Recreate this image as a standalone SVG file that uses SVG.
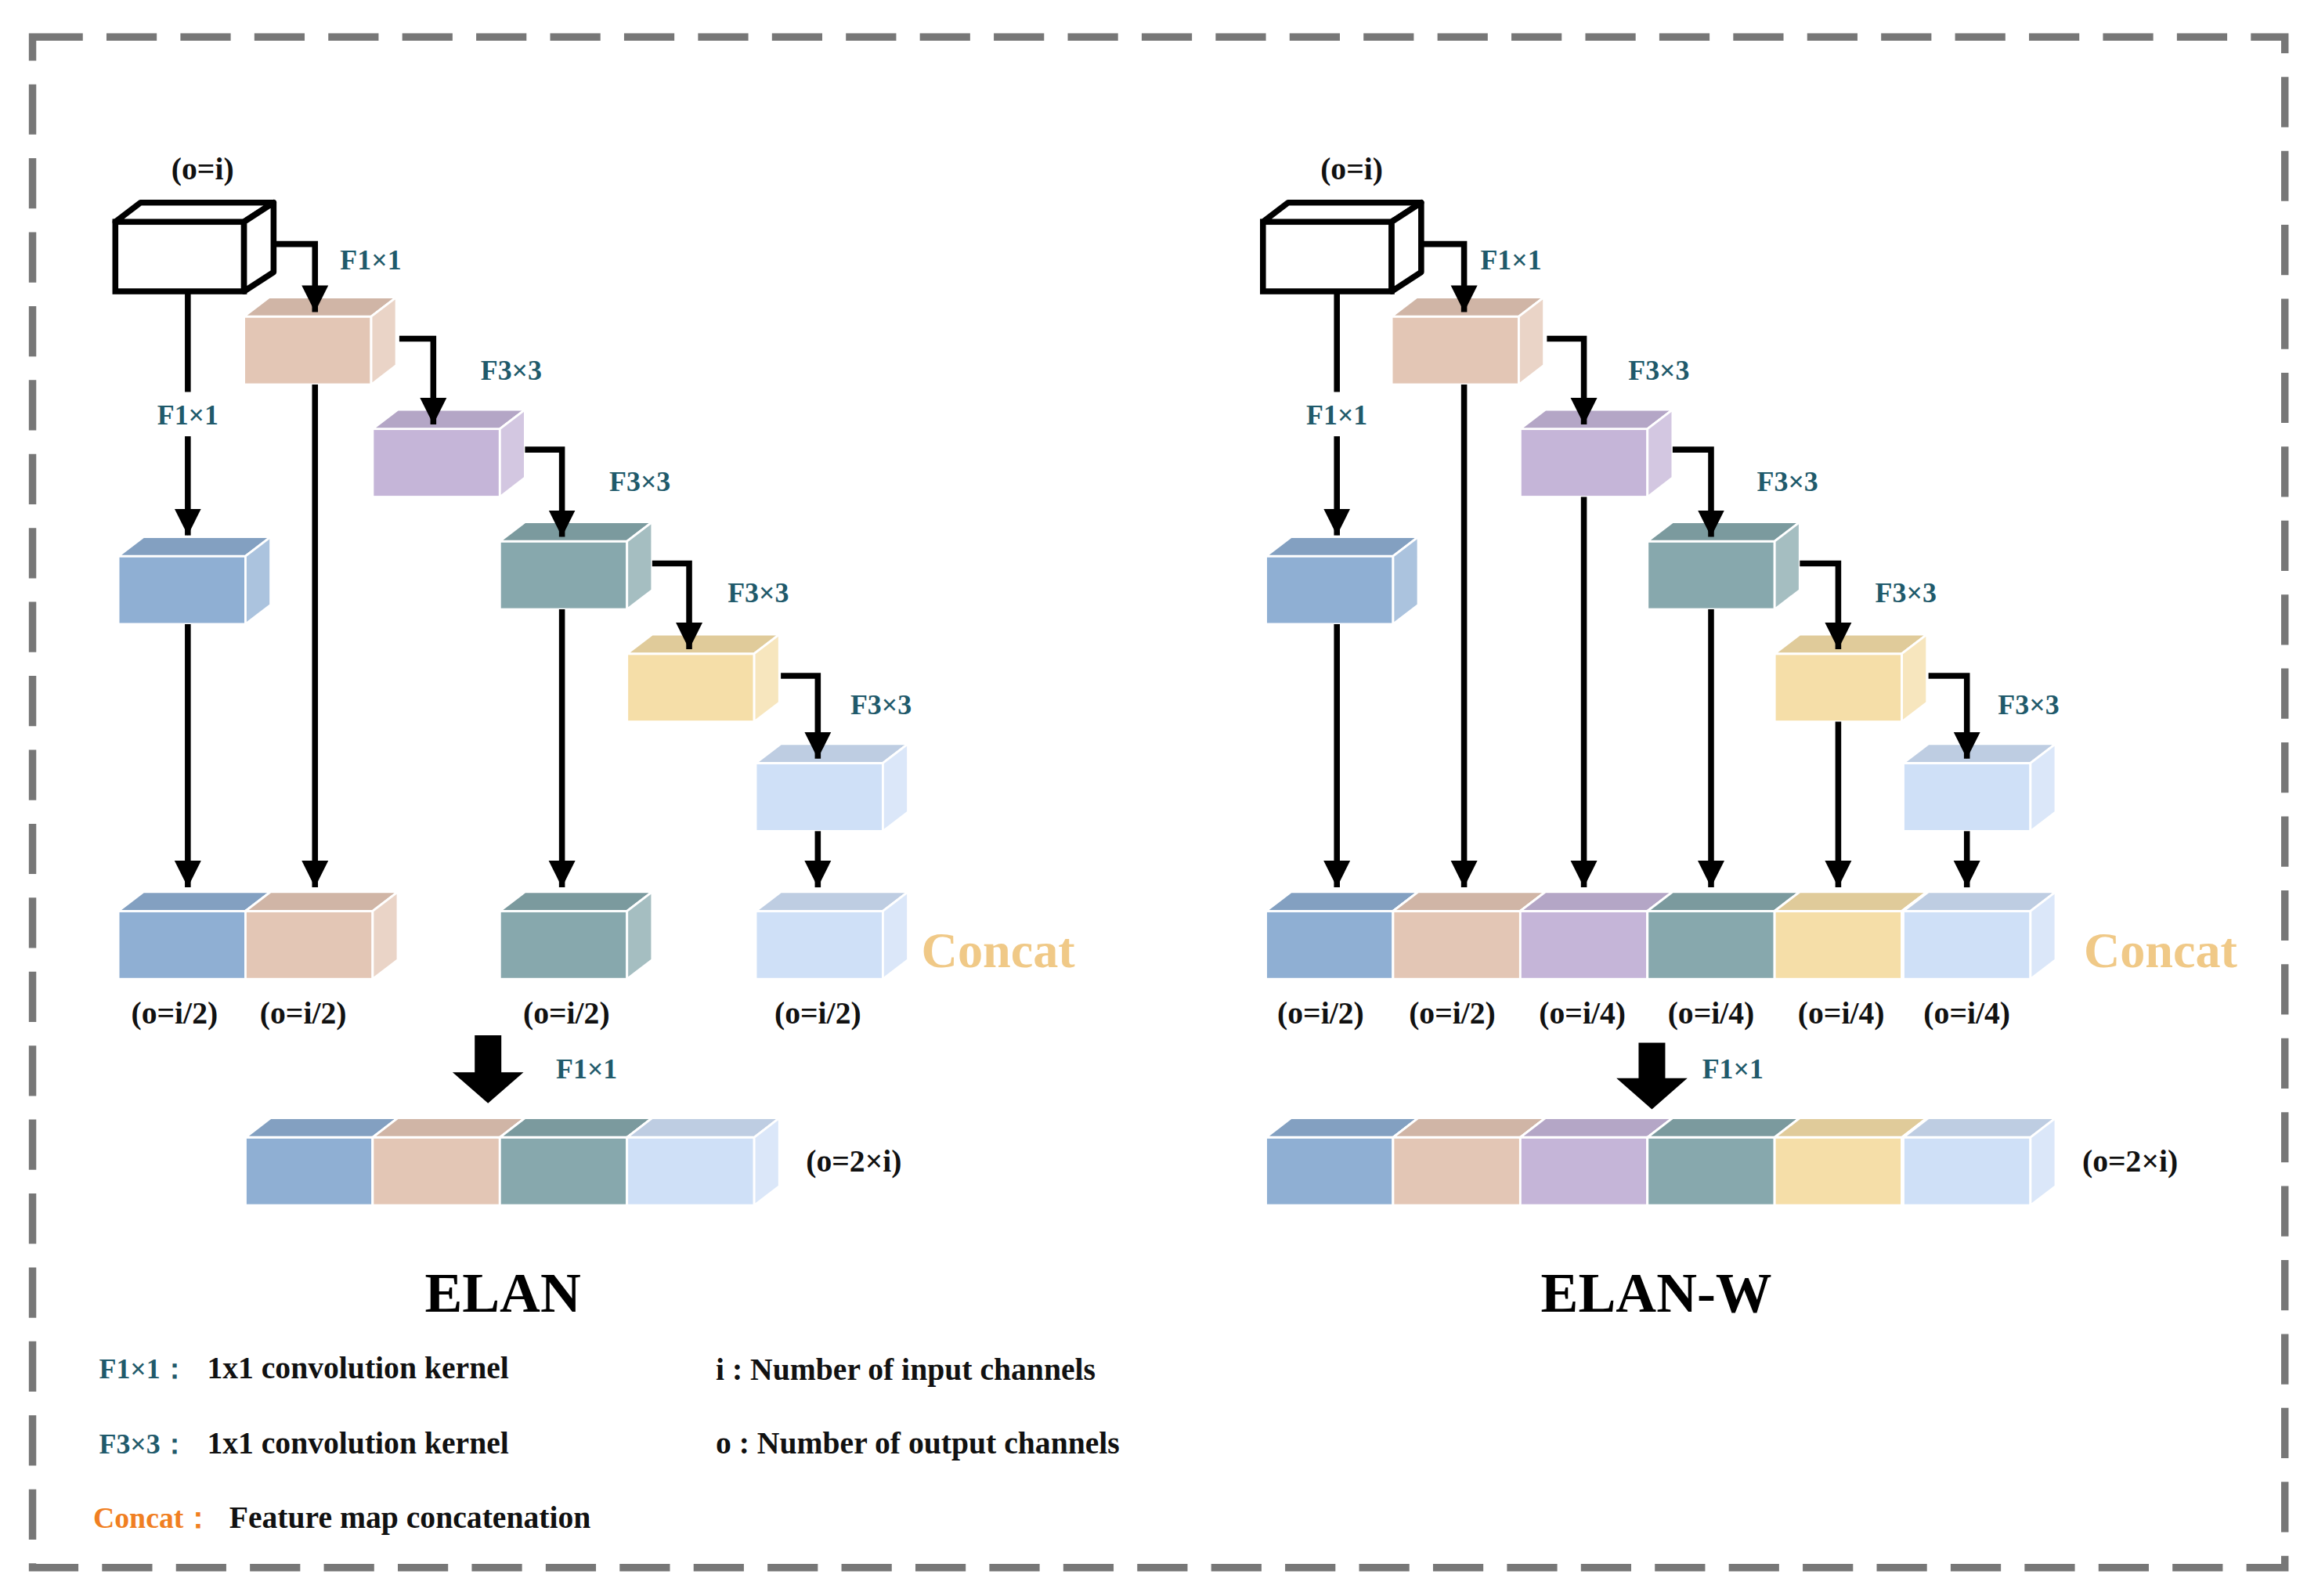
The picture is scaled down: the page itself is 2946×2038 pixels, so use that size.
<svg xmlns="http://www.w3.org/2000/svg" xmlns:xlink="http://www.w3.org/1999/xlink" width="2946" height="2038" viewBox="0 0 2946 2038">
<style>
.t{font-family:"Liberation Serif","DejaVu Serif",serif;font-weight:bold;}
.k{fill:#1f5a6b;font-size:19px;}
.lb{fill:#111;font-size:21px;}
.cc{fill:#f0c987;font-size:34px;}
.ln{stroke:#000;stroke-width:4;fill:none;}
</style>
<defs>
<g id="cube" stroke="#fff" stroke-width="1.5">
<rect x="0" y="0" width="86" height="46"/>
<polygon points="0,0 17,-13 103,-13 86,0"/>
<polygon points="0,0 17,-13 103,-13 86,0" fill="#000" opacity="0.08"/>
<polygon points="86,0 103,-13 103,33 86,46"/>
<polygon points="86,0 103,-13 103,33 86,46" fill="#fff" opacity="0.25"/>
</g>
<marker id="ah" viewBox="0 0 10 10" refX="10" refY="5" markerWidth="4.5" markerHeight="7" markerUnits="strokeWidth" orient="auto"><path d="M0,0L10,5L0,10z" fill="#000"/></marker>
</defs>
<rect width="2946" height="2038" fill="#fff"/>
<g transform="scale(1.8885)">
<rect id="border" x="22" y="25" width="1523" height="1035" fill="none" stroke="#777" stroke-width="5" stroke-dasharray="34,16"/>

<g id="elan-nodes">
<g id="in1"><rect x="78" y="150" width="87" height="47" fill="#fff" stroke="#000" stroke-width="4"/><polygon points="78,150 95,137 185,137 165,150" fill="#fff" stroke="#000" stroke-width="4" stroke-linejoin="round"/><polygon points="165,150 185,137 185,184 165,197" fill="#fff" stroke="#000" stroke-width="4" stroke-linejoin="round"/></g>
<use href="#cube" x="165" y="214" fill="#e3c6b5"/>
<use href="#cube" x="252" y="290" fill="#c5b5d8"/>
<use href="#cube" x="338" y="366" fill="#87a8ad"/>
<use href="#cube" x="424" y="442" fill="#f5dea8"/>
<use href="#cube" x="511" y="516" fill="#cfe0f7"/>
<use href="#cube" x="80" y="376" fill="#8fafd3"/>
<use href="#cube" x="80" y="616" fill="#8fafd3"/>
<use href="#cube" x="166" y="616" fill="#e3c6b5"/>
<use href="#cube" x="338" y="616" fill="#87a8ad"/>
<use href="#cube" x="511" y="616" fill="#cfe0f7"/>
<use href="#cube" x="166" y="769" fill="#8fafd3"/>
<use href="#cube" x="252" y="769" fill="#e3c6b5"/>
<use href="#cube" x="338" y="769" fill="#87a8ad"/>
<use href="#cube" x="424" y="769" fill="#cfe0f7"/>
</g>

<g id="elanw-nodes">
<g id="in2"><rect x="854" y="150" width="87" height="47" fill="#fff" stroke="#000" stroke-width="4"/><polygon points="854,150 871,137 961,137 941,150" fill="#fff" stroke="#000" stroke-width="4" stroke-linejoin="round"/><polygon points="941,150 961,137 961,184 941,197" fill="#fff" stroke="#000" stroke-width="4" stroke-linejoin="round"/></g>
<use href="#cube" x="941" y="214" fill="#e3c6b5"/>
<use href="#cube" x="1028" y="290" fill="#c5b5d8"/>
<use href="#cube" x="1114" y="366" fill="#87a8ad"/>
<use href="#cube" x="1200" y="442" fill="#f5dea8"/>
<use href="#cube" x="1287" y="516" fill="#cfe0f7"/>
<use href="#cube" x="856" y="376" fill="#8fafd3"/>
<use href="#cube" x="856" y="616" fill="#8fafd3"/>
<use href="#cube" x="942" y="616" fill="#e3c6b5"/>
<use href="#cube" x="1028" y="616" fill="#c5b5d8"/>
<use href="#cube" x="1114" y="616" fill="#87a8ad"/>
<use href="#cube" x="1200" y="616" fill="#f5dea8"/>
<use href="#cube" x="1287" y="616" fill="#cfe0f7"/>
<use href="#cube" x="856" y="769" fill="#8fafd3"/>
<use href="#cube" x="942" y="769" fill="#e3c6b5"/>
<use href="#cube" x="1028" y="769" fill="#c5b5d8"/>
<use href="#cube" x="1114" y="769" fill="#87a8ad"/>
<use href="#cube" x="1200" y="769" fill="#f5dea8"/>
<use href="#cube" x="1287" y="769" fill="#cfe0f7"/>
</g>

<g id="connectors">
<g class="ln" marker-end="url(#ah)">
<path d="M185,165H213V211"/>
<path d="M270,229H293V287"/>
<path d="M355,304H380V363"/>
<path d="M441,381H466V439"/>
<path d="M528,457H553V513"/>
<path d="M127,295V362"/>
<path d="M127,422V600"/>
<path d="M213,260V600"/>
<path d="M380,412V600"/>
<path d="M553,562V600"/>
<path d="M961,165H990V211"/>
<path d="M1046,229H1071V287"/>
<path d="M1131,304H1157V363"/>
<path d="M1217,381H1243V439"/>
<path d="M1304,457H1330V513"/>
<path d="M904,295V362"/>
<path d="M904,422V600"/>
<path d="M990,260V600"/>
<path d="M1071,336V600"/>
<path d="M1157,412V600"/>
<path d="M1243,488V600"/>
<path d="M1330,562V600"/>
</g>
<path class="ln" d="M127,197V265"/>
<path class="ln" d="M904,197V265"/>
<polygon points="321,700 339,700 339,725 354,725 330,746 306,725 321,725" fill="#000"/>
<polygon points="1108,705 1126,705 1126,729 1141,729 1117,750 1093,729 1108,729" fill="#000"/>
</g>

<g id="labels" class="t">
<text class="lb" x="137" y="121" text-anchor="middle">(o=i)</text>
<text class="lb" x="914" y="121" text-anchor="middle">(o=i)</text>
<text class="k" x="230" y="182">F1×1</text>
<text class="k" x="127" y="287" text-anchor="middle">F1×1</text>
<text class="k" x="325" y="257">F3×3</text>
<text class="k" x="412" y="332">F3×3</text>
<text class="k" x="492" y="407">F3×3</text>
<text class="k" x="575" y="483">F3×3</text>
<text class="k" x="1001" y="182">F1×1</text>
<text class="k" x="904" y="287" text-anchor="middle">F1×1</text>
<text class="k" x="1101" y="257">F3×3</text>
<text class="k" x="1188" y="332">F3×3</text>
<text class="k" x="1268" y="407">F3×3</text>
<text class="k" x="1351" y="483">F3×3</text>
<text class="lb" x="118" y="692" text-anchor="middle">(o=i/2)</text>
<text class="lb" x="205" y="692" text-anchor="middle">(o=i/2)</text>
<text class="lb" x="383" y="692" text-anchor="middle">(o=i/2)</text>
<text class="lb" x="553" y="692" text-anchor="middle">(o=i/2)</text>
<text class="lb" x="893" y="692" text-anchor="middle">(o=i/2)</text>
<text class="lb" x="982" y="692" text-anchor="middle">(o=i/2)</text>
<text class="lb" x="1070" y="692" text-anchor="middle">(o=i/4)</text>
<text class="lb" x="1157" y="692" text-anchor="middle">(o=i/4)</text>
<text class="lb" x="1245" y="692" text-anchor="middle">(o=i/4)</text>
<text class="lb" x="1330" y="692" text-anchor="middle">(o=i/4)</text>
<text class="cc" x="623" y="654">Concat</text>
<text class="cc" x="1409" y="654">Concat</text>
<text class="k" x="376" y="729">F1×1</text>
<text class="k" x="1151" y="729">F1×1</text>
<text class="lb" x="545" y="792">(o=2×i)</text>
<text class="lb" x="1408" y="792">(o=2×i)</text>
<text x="340" y="887" text-anchor="middle" font-size="38" fill="#000">ELAN</text>
<text x="1120" y="887" text-anchor="middle" font-size="38" fill="#000">ELAN-W</text>
<text class="k" x="67" y="932">F1×1：</text>
<text class="lb" x="140" y="932" font-size="20">1x1 convolution kernel</text>
<text class="k" x="67" y="983">F3×3：</text>
<text class="lb" x="140" y="983" font-size="20">1x1 convolution kernel</text>
<text x="63" y="1033" font-size="20" fill="#f07f22">Concat：</text>
<text class="lb" x="155" y="1033" font-size="20">Feature map concatenation</text>
<text class="lb" x="484" y="933" font-size="20">i : Number of input channels</text>
<text class="lb" x="484" y="983" font-size="20">o : Number of output channels</text>
</g>
</g>
</svg>
